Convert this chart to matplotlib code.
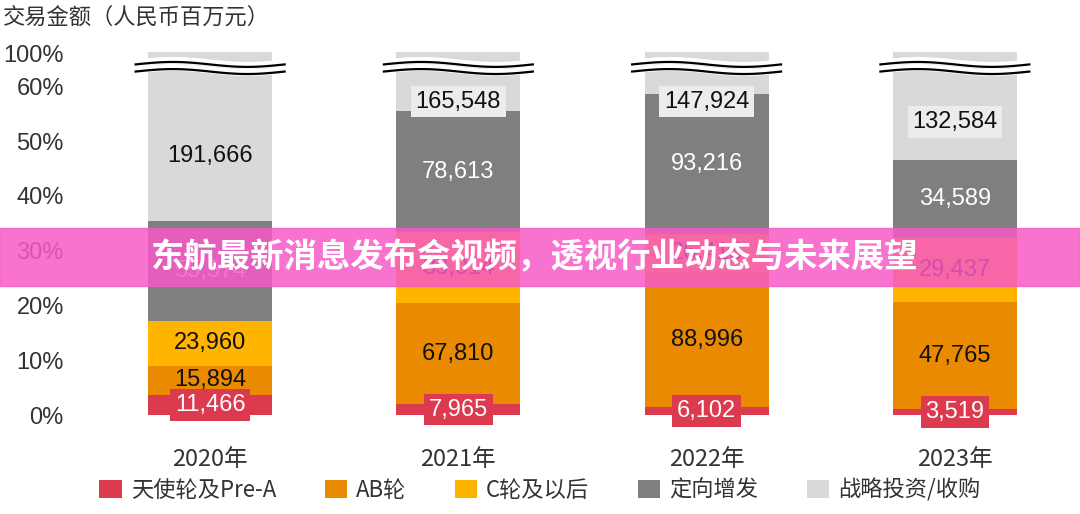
import numpy as np
import matplotlib.pyplot as plt
from matplotlib.patches import Rectangle

plt.rcParams['font.family'] = ['Noto Sans CJK SC']
NUM = 'Liberation Sans'

years = ['2020年', '2021年', '2022年', '2023年']
series = ['天使轮及Pre-A', 'AB轮', 'C轮及以后', '定向增发', '战略投资/收购']
colors = ['#dc3a4f', '#ea8a00', '#ffb400', '#7f7f7f', '#d9d9d9']

# segment heights in displayed (broken-axis) percent units
h_angel = [3.7, 2.0, 1.5, 1.1]
h_ab = [5.3, 18.4, 24.5, 19.5]
h_c = [8.2, 13.0, 7.0, 11.9]
h_dir = [18.2, 22.1, 25.6, 14.0]
h_str = [30.8, 10.7, 7.6, 19.7]
labels = [
    ['11,466', '7,965', '6,102', '3,519'],
    ['15,894', '67,810', '88,996', '47,765'],
    ['23,960', '33,014', '26,415', '29,437'],
    ['55,574', '78,613', '93,216', '34,589'],
    ['191,666', '165,548', '147,924', '132,584'],
]
tick_pos = [0, 10, 20, 30, 40, 50, 60, 66]
tick_lab = ['0%', '10%', '20%', '30%', '40%', '50%', '60%', '100%']

fig = plt.figure(figsize=(10.8, 5.14), dpi=100)
ax = fig.add_axes([86 / 1080, 99 / 514, 993 / 1080, 367 / 514])
x = np.arange(len(years))
heights = [h_angel, h_ab, h_c, h_dir, h_str]
bottom = np.zeros(len(years))
for i, h in enumerate(heights):
    h = np.array(h)
    ax.bar(x, h, 0.5, bottom=bottom, color=colors[i], label=series[i])
    for j in range(len(years)):
        yc = bottom[j] + h[j] / 2
        if i == 0:
            ax.text(x[j], yc, labels[i][j], ha='center', va='center', color='white', fontsize=17,
                    fontfamily=NUM, zorder=5,
                    bbox=dict(boxstyle='square,pad=0.2', fc=colors[0], ec='none'))
        elif i == 4:
            yc = min(bottom[j] + (62 - bottom[j]) * 0.45, 57.2)
            if j == 0:
                ax.text(x[j], yc, labels[i][j], ha='center', va='center', color='#111111',
                        fontsize=17, fontfamily=NUM)
            else:
                ax.text(x[j], yc, labels[i][j], ha='center', va='center', color='#111111',
                        fontsize=17, fontfamily=NUM, zorder=5,
                        bbox=dict(boxstyle='square,pad=0.2', fc='#ececec', ec='none'))
        else:
            c = 'white' if i == 3 else '#111111'
            ax.text(x[j], yc, labels[i][j], ha='center', va='center', color=c, fontsize=17,
                    fontfamily=NUM)
    bottom += h

# axis break marks
t = np.linspace(-0.3, 0.3, 60)
for xi in x:
    for off in (62.7, 64.0):
        yy = off + 0.45 * np.sin((t + 0.3) / 0.6 * 2 * np.pi)
        ax.fill_between(xi + t, yy - 0.25, yy + 1.0, color='white', zorder=3, lw=0)
        ax.plot(xi + t, yy, color='black', lw=1.6, zorder=4)

ax.set_xlim(-0.5, 3.5)
ax.set_ylim(0, 67)
ax.set_yticks(tick_pos)
ax.set_yticklabels(tick_lab, fontfamily=NUM, fontsize=17, color='#333333')
ax.set_xticks(x)
ax.set_xticklabels(years, fontsize=17, color='#333333')
ax.tick_params(axis='x', length=0, pad=24)
ax.tick_params(axis='y', length=0, pad=16)
for s in ax.spines.values():
    s.set_visible(False)

fig.text(0.003, 0.967, '交易金额（人民币百万元）', fontsize=16, color='#333333', va='center')
fig.legend(loc='lower center', bbox_to_anchor=(0.5, -0.015), ncol=5, frameon=False,
           fontsize=16, handlelength=1.0, handleheight=0.9, columnspacing=2.2, handletextpad=0.4,
           labelcolor='#333333')

# overlay banner
fig.patches.append(Rectangle((0, 1 - 286 / 514), 1, 58 / 514, transform=fig.transFigure,
                             color='#f65ac6', alpha=0.85, zorder=10))
fig.text(150 / 1080, 1 - 258 / 514, '东航最新消息发布会视频，透视行业动态与未来展望', fontsize=24,
         fontweight='bold', color='white', va='center', zorder=11)

fig.savefig('out.png', dpi=100)
